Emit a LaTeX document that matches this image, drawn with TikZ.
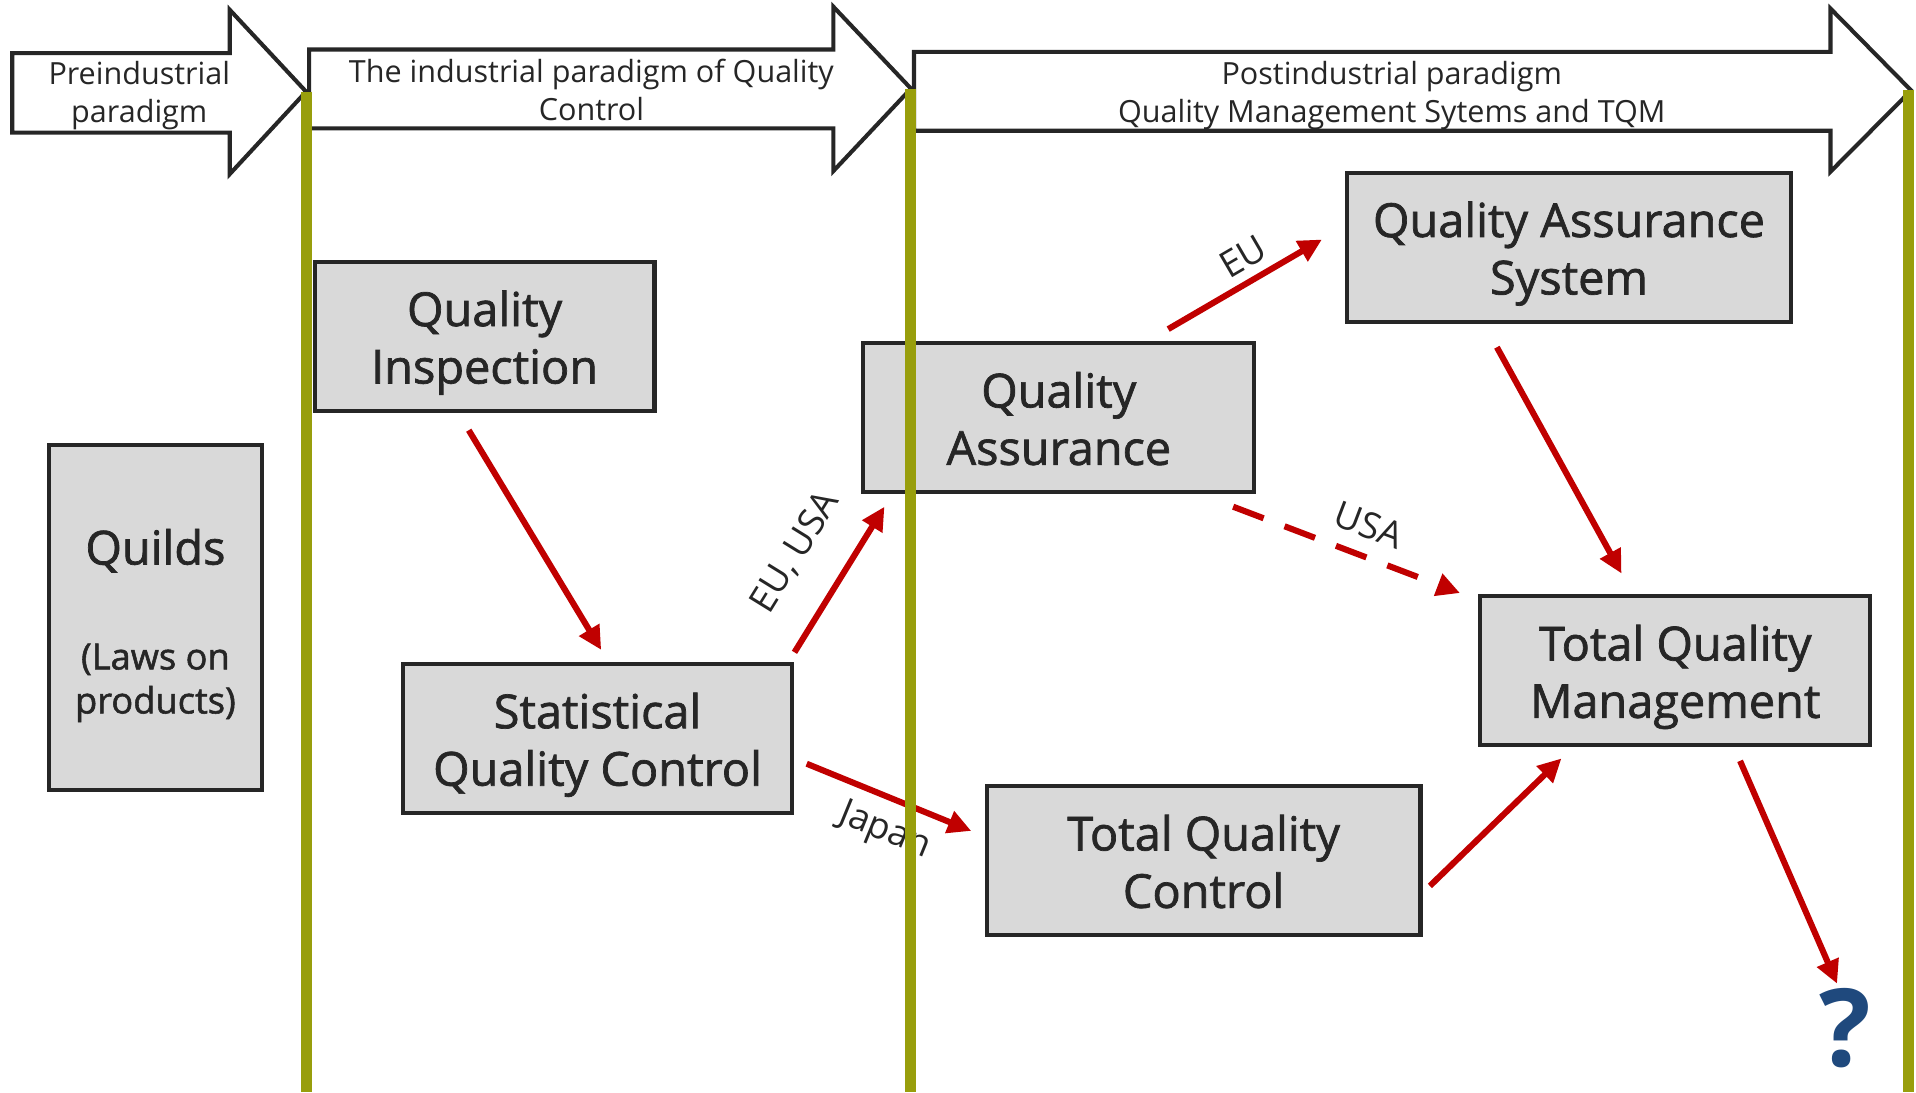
\documentclass[tikz,border=0pt]{standalone}
\usepackage{fontspec}
\setmainfont{Open Sans}
\newfontfamily\stagefamily[FakeBold=1.5]{Open Sans}
\usepackage{tikz}
\usetikzlibrary{calc}
\usetikzlibrary{arrows.meta}

\definecolor{olivebar}{RGB}{152,158,12}
\definecolor{boxgray}{RGB}{217,217,217}
\definecolor{inkgray}{RGB}{38,38,38}
\definecolor{flowred}{RGB}{192,0,0}
\definecolor{markblue}{RGB}{31,73,125}

\newcommand{\lawsfont}{\fontsize{17.8}{18}\selectfont}
% taller first line, so two-line texts sit lower in their boxes
\newcommand{\capstrut}[1]{\rule{0pt}{#1em}}
% same depth as a descender, for last lines that have none
\newcommand{\descstrut}{\rule[-0.24em]{0pt}{0.24em}}

\tikzset{
  phase/.style = {draw = inkgray, line width = 2pt, fill = white},
  phasetext/.style = {text = inkgray, align = center, font = \fontsize{15}{18.6}\selectfont},
  stage/.style = {draw = inkgray, line width = 2pt, fill = boxgray, text = inkgray,
    align = center, inner sep = 0pt, font = \stagefamily\fontsize{23}{28.2}\selectfont},
  flow/.style = {draw = flowred, line width = 3pt, -{Triangle[length = 11.5pt, width = 11pt]}},
  flowtext/.style = {text = inkgray, font = \fontsize{18}{20}\selectfont, sloped},
  divider/.style = {draw = olivebar, line width = 5.4pt},
}

\begin{document}
\begin{tikzpicture} [x = 0.6pt, y = -0.6pt]
    \useasboundingbox (0,0) rectangle (1568,894);

    % the three paradigms
    \draw [phase] (10,43.5)--(188,43.5)--(188,8)--(250.5,75)--(188,142.5)--(188,108.5)--(10,108.5)--cycle;
    \draw [phase] (253,40.5)--(682,40.5)--(682,5.5)--(745.5,72.5)--(682,140)--(682,105)--(253,105)--cycle;
    \draw [phase] (748,42.5)--(1498,42.5)--(1498,7)--(1564,74)--(1498,140.5)--(1498,107)--(748,107)--cycle;
    \coordinate (tip1) at (250.5,75);
    \coordinate (tip2) at (745.5,72.5);
    \coordinate (tip3) at (1562,74);
    \node [phasetext] (pre) at (114,75.5) {\capstrut{1}Preindustrial\\paradigm};
    \node [phasetext] (ind) at (484,72) {\capstrut{0.9}The industrial paradigm of Quality\\Control};
    \node [phasetext] (post) at (1139,75.5) {\capstrut{1}Postindustrial paradigm\\Quality Management Sytems and TQM};

    % stages
    \node [stage, minimum width = 104.7pt, minimum height = 169.2pt] (quilds) at (127.2,505.4)
        {\capstrut{1.1}Quilds\\[23.3pt]{\lawsfont (Laws on}\\[-6.6pt]{\lawsfont products)}};
    \node [stage, minimum width = 166.8pt, minimum height = 73.2pt] (qi) at (396.6,275.4) {\capstrut{1.02}Quality\\Inspection};
    \node [stage, minimum width = 191.4pt, minimum height = 73.2pt] (sqc) at (489,604.5) {\capstrut{1.02}Statistical\\Quality Control};
    \node [stage, minimum width = 192pt, minimum height = 73.2pt] (qa) at (866.5,342) {\capstrut{1.02}Quality\\Assurance\descstrut};
    \node [stage, minimum width = 217.8pt, minimum height = 73.2pt] (qas) at (1284,202.5) {\capstrut{1.02}Quality Assurance\\System};
    \node [stage, minimum width = 213pt, minimum height = 73.2pt] (tqc) at (985,704.5) {\capstrut{1.02}Total Quality\\Control\descstrut};
    \node [stage, minimum width = 191.4pt, minimum height = 73.2pt] (tqm) at (1371,549) {\capstrut{1.02}Total Quality\\Management};
    \node [text = markblue, font = \fontsize{53}{53}\selectfont\bfseries] (quest) at (1510.4,841) {?};

    % transitions
    \draw [flow] ($(qi.south)+(-13,14)$) -- ($(sqc.north)+(3,-10)$);
    \draw [flow] ($(sqc.north east)+(0,-8)$) -- node [flowtext, above = 13pt] (euusa) {EU, USA} ($(qa.south west)+(19,10)$);
    \draw [flow] ($(sqc.east)+(10,20.5)$) -- node [flowtext, below = 3pt, pos = 0.55] (japan) {Japan} ($(tqc.west)+(-11,-24.5)$);
    \draw [flow] ($(qa.north)+(89.5,-10)$) -- node [flowtext, above = 1pt, pos = 0.57] (eu) {EU} ($(qas.west)+(-19,-6.5)$);
    \draw [flow, dash pattern = on 16pt off 11pt] ($(qa.south east)+(-19,10)$) -- node [flowtext, above = 4pt, pos = 0.55] (usa) {USA} ($(tqm.north west)+(-15,-1)$);
    \draw [flow] ($(qas.south)+(-59,19)$) -- ($(tqm.north)+(-44,-17)$);
    \draw [flow] ($(tqc.east)+(6,20.5)$) -- ($(tqm.south west)+(68,9)$);
    \draw [flow] ($(tqm.south)+(53,11)$) -- ($(quest.center)+(-7,-36)$);

    % borders between the paradigms
    \draw [divider] (tip1) -- (tip1 |- 0,894);
    \draw [divider] (tip2) -- (tip2 |- 0,894);
    \draw [divider] (tip3) -- (tip3 |- 0,894);
\end{tikzpicture}
\end{document}
